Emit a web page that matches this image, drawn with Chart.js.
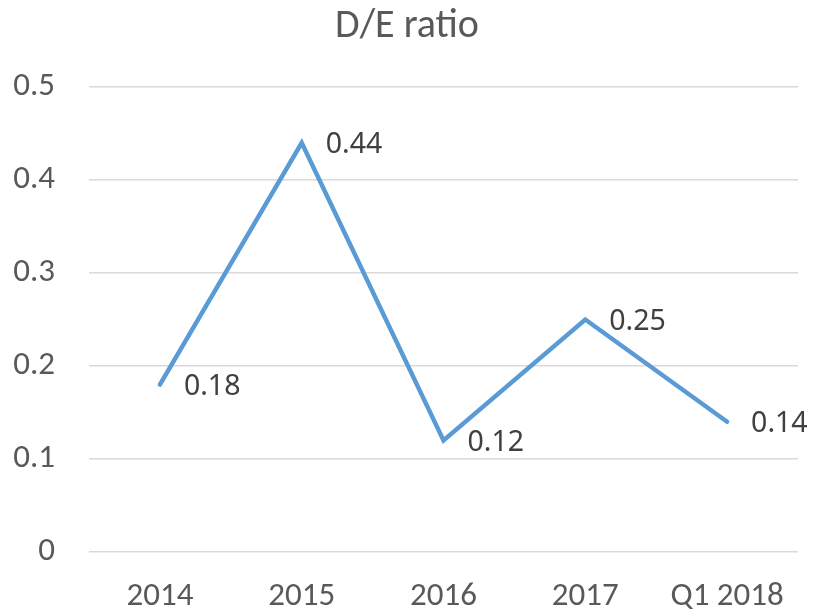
<!DOCTYPE html>
<html>
<head>
<meta charset="utf-8">
<script src="https://cdn.jsdelivr.net/npm/chart.js@4/dist/chart.umd.min.js"></script>
<style>
html,body{margin:0;padding:0;background:#fff;}
#wrap{width:814px;height:613px;position:relative;}
</style>
</head>
<body>
<div id="wrap"><canvas id="c" width="814" height="613"></canvas></div>
<script>
const categories = ["2014", "2015", "2016", "2017", "Q1 2018"];
const deRatio = [0.18, 0.44, 0.12, 0.25, 0.14];
const valueLabels = ["0.18", "0.44", "0.12", "0.25", "0.14"];
const chartTitle = "D/E ratio";

const axisFont = "Carlito, 'Liberation Sans Narrow', 'Open Sans', sans-serif";
const labelFont = "'Noto Sans', 'Open Sans', sans-serif";

const dataLabelPlugin = {
  id: 'dataLabels',
  afterDatasetsDraw(chart) {
    const ctx = chart.ctx;
    const meta = chart.getDatasetMeta(0);
    ctx.save();
    ctx.font = "28.5px " + labelFont;
    ctx.fillStyle = "#404040";
    ctx.textAlign = "left";
    ctx.textBaseline = "middle";
    meta.data.forEach((pt, i) => {
      ctx.fillText(valueLabels[i], pt.x + 24, pt.y + 2);
    });
    ctx.restore();
  }
};

new Chart(document.getElementById('c'), {
  type: 'line',
  data: {
    labels: categories,
    datasets: [{
      data: deRatio,
      borderColor: '#5B9BD5',
      borderWidth: 4.5,
      borderCapStyle: 'round',
      pointRadius: 0,
      pointHoverRadius: 0,
      tension: 0,
      fill: false
    }]
  },
  options: {
    responsive: false,
    animation: false,
    devicePixelRatio: 1,
    layout: { padding: 0 },
    plugins: {
      legend: { display: false },
      tooltip: { enabled: false },
      title: {
        display: true,
        text: chartTitle,
        color: '#595959',
        font: { family: axisFont, size: 40, weight: 'normal', lineHeight: 1.2 },
        padding: { top: 3, bottom: 36 }
      }
    },
    scales: {
      x: {
        offset: true,
        grid: { display: false, drawTicks: false },
        border: { display: false },
        ticks: {
          color: '#595959',
          font: { family: axisFont, size: 33 },
          padding: 25,
          maxRotation: 0,
          autoSkip: false
        },
        afterFit(scale) { scale.height = 61; }
      },
      y: {
        min: 0,
        max: 0.5,
        grid: { color: '#d9d9d9', lineWidth: 1.5, drawTicks: false },
        border: { display: false },
        ticks: {
          stepSize: 0.1,
          color: '#595959',
          font: { family: axisFont, size: 33 },
          padding: 34,
          callback: (v) => Number(v.toFixed(1)).toString()
        },
        afterFit(scale) { scale.width = 89; }
      },
      yRight: {
        position: 'right',
        min: 0,
        max: 0.5,
        grid: { display: false, drawTicks: false },
        border: { display: false },
        ticks: { display: false },
        afterFit(scale) { scale.width = 16; }
      }
    }
  },
  plugins: [dataLabelPlugin]
});
</script>
</body>
</html>
